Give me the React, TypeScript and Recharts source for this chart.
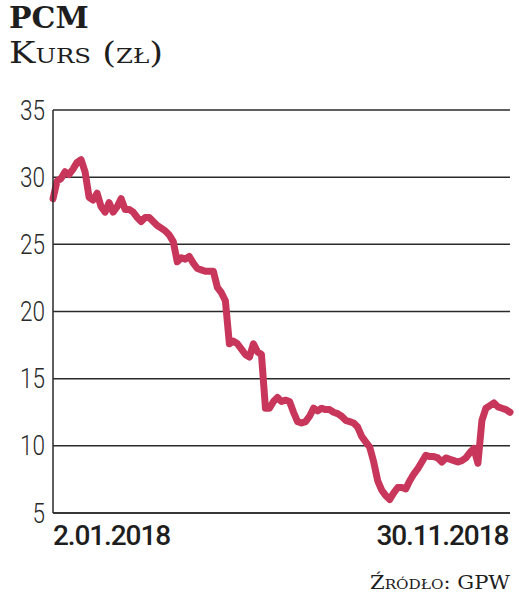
import React from 'react';
import { LineChart, Line, XAxis, YAxis, CartesianGrid } from 'recharts';

// Closing prices of PCM (zł), 2.01.2018 – 30.11.2018, sampled evenly across the session days
const prices = [
  28.4, 29.7, 29.9, 30.4, 30.2, 30.6, 31.1, 31.3, 30.4, 28.5,
  28.3, 28.8, 27.8, 27.4, 28.1, 27.4, 27.8, 28.4, 27.6, 27.6,
  27.4, 27.0, 26.7, 27.0, 27.0, 26.7, 26.4, 26.2, 26.0, 25.7,
  25.2, 23.7, 24.0, 23.9, 24.1, 23.6, 23.2, 23.1, 23.0, 23.0,
  23.0, 21.8, 21.4, 20.8, 17.6, 17.8, 17.6, 17.2, 16.8, 16.6,
  17.6, 17.0, 16.8, 12.8, 12.8, 13.3, 13.6, 13.3, 13.4, 13.3,
  12.5, 11.8, 11.7, 11.8, 12.2, 12.8, 12.6, 12.8, 12.7, 12.7,
  12.5, 12.4, 12.2, 11.9, 11.8, 11.7, 11.4, 10.7, 10.3, 9.9,
  8.8, 7.4, 6.7, 6.3, 6.0, 6.5, 6.9, 6.9, 6.8, 7.4,
  7.9, 8.3, 8.8, 9.3, 9.2, 9.2, 9.1, 8.8, 9.1, 9.0,
  8.9, 8.8, 8.9, 9.1, 9.5, 9.8, 8.7, 11.9, 12.8, 13.0,
  13.2, 12.9, 12.8, 12.7, 12.5,
];

const yTicks = [5, 10, 15, 20, 25, 30, 35];
const xTickLabels = ['2.01.2018', '30.11.2018'];
const title = 'PCM';
const subtitle = 'Kurs (zł)';
const source = 'Źródło: GPW';

const data = prices.map((v, i) => ({ i, v }));
const lastIndex = prices.length - 1;

const XTick = (props: any) => {
  const { x, y, payload } = props;
  const first = payload.value === 0;
  const label = first ? xTickLabels[0] : xTickLabels[1];
  return (
    <text
      x={first ? x : x + 1}
      y={y}
      dy="0.71em"
      textAnchor={first ? 'start' : 'end'}
      fill="#1e1e1e"
      fontSize={28}
      fontWeight={500}
      letterSpacing={-1.1}
      fontFamily="Roboto, sans-serif"
    >
      {label}
    </text>
  );
};

const YTick = (props: any) => {
  const { x, y, payload } = props;
  const label = String(payload.value);
  return (
    <text
      x={x}
      y={y}
      dy="0.355em"
      textAnchor="end"
      fill="#2a2a2a"
      fontSize={27}
      fontWeight={300}
      fontFamily="Roboto, sans-serif"
      textLength={label.length * 12.5}
      lengthAdjust="spacingAndGlyphs"
    >
      {label}
    </text>
  );
};

export default function App() {
  return (
    <div style={{ position: 'absolute', left: 0, top: 0, width: 519, height: 593, background: '#fff' }}>
      <LineChart
        width={519}
        height={593}
        data={data}
        margin={{ top: 110, right: 9, bottom: 40, left: 0 }}
      >
        <CartesianGrid vertical={false} stroke="#2a2a2a" strokeWidth={1.5} />
        <XAxis
          type="number"
          dataKey="i"
          domain={[0, lastIndex]}
          ticks={[0, lastIndex]}
          height={40}
          tickSize={0}
          tickMargin={12}
          tick={<XTick />}
          axisLine={{ stroke: '#2a2a2a', strokeWidth: 1.5 }}
          tickLine={false}
        />
        <YAxis
          type="number"
          domain={[5, 35]}
          ticks={yTicks}
          width={53}
          tickSize={0}
          tickMargin={8}
          interval={0}
          axisLine={{ stroke: '#2a2a2a', strokeWidth: 1.5 }}
          tickLine={false}
          tick={<YTick />}
        />
        <Line
          type="linear"
          dataKey="v"
          stroke="#c8375b"
          strokeWidth={7}
          dot={false}
          strokeLinejoin="round"
          strokeLinecap="round"
          isAnimationActive={false}
        />
      </LineChart>
      <svg
        width={519}
        height={593}
        style={{ position: 'absolute', left: 0, top: 0, pointerEvents: 'none' }}
      >
        <text x={9} y={28} fontSize={30} fontWeight={700} fill="#1e1e1e" fontFamily="'DejaVu Serif', serif">
          {title}
        </text>
        <text
          x={9}
          y={63}
          fontSize={29}
          fill="#1e1e1e"
          fontFamily="'DejaVu Serif', serif"
          textLength={154}
          lengthAdjust="spacingAndGlyphs"
          style={{ fontVariant: 'small-caps' }}
        >
          {subtitle}
        </text>
        <text
          x={510}
          y={589}
          textAnchor="end"
          fontSize={18}
          fill="#1e1e1e"
          fontFamily="'DejaVu Serif', serif"
          textLength={140}
          lengthAdjust="spacingAndGlyphs"
          style={{ fontVariant: 'small-caps' }}
        >
          {source}
        </text>
      </svg>
    </div>
  );
}
